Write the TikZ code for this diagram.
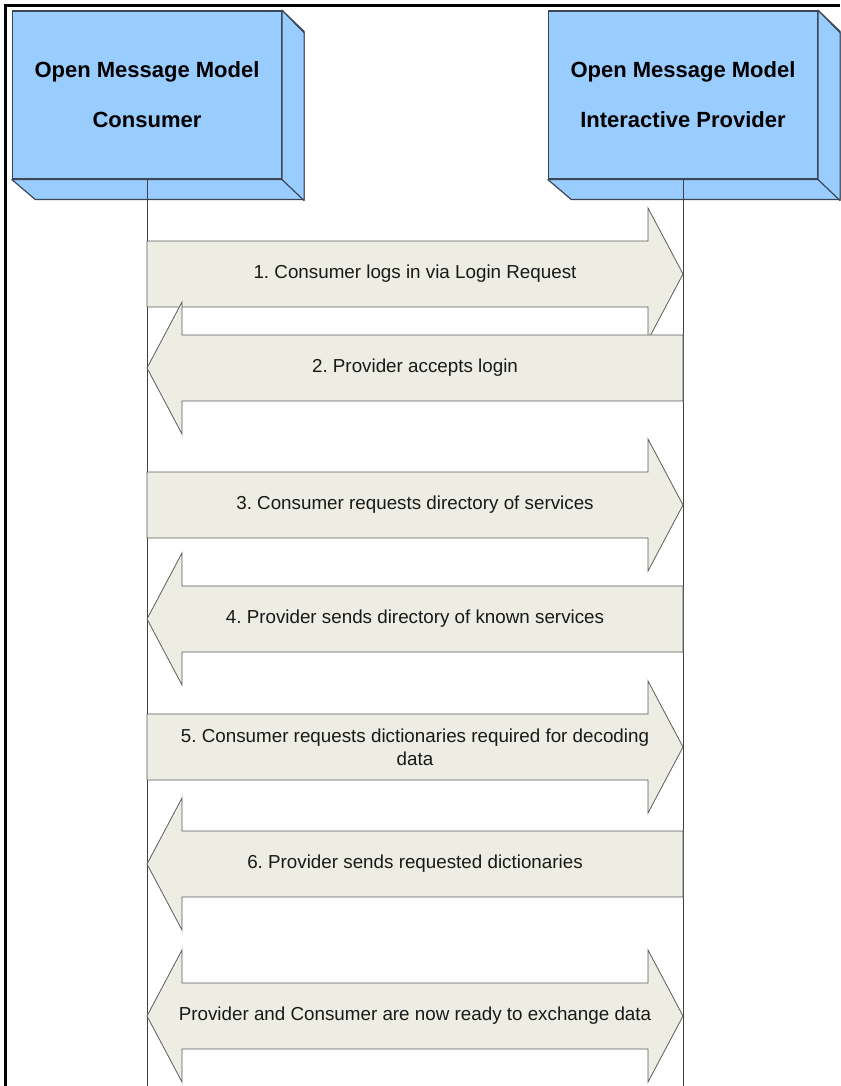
\documentclass[tikz,border=0pt]{standalone}
\usepackage{fontspec}
\setmainfont{Liberation Sans}
\usetikzlibrary{positioning,calc}
\frenchspacing

\definecolor{boxblue}{HTML}{99CCFF}
\definecolor{boxedge}{HTML}{3C4654}
\definecolor{msgfill}{HTML}{EDEDE3}
\definecolor{msgedge}{HTML}{5C5C5C}

% block arrows between two lifeline points
\newcommand{\msgright}[2]{%
  \draw[msg] ($(#1)+(0,-33)$) -- ($(#2)+(-35,-33)$) -- ($(#2)+(-35,-66)$) -- (#2)
    -- ($(#2)+(-35,66)$) -- ($(#2)+(-35,33)$) -- ($(#1)+(0,33)$) -- cycle;}
\newcommand{\msgleft}[2]{%
  \draw[msg] ($(#1)+(0,-33)$) -- ($(#2)+(35,-33)$) -- ($(#2)+(35,-66)$) -- (#2)
    -- ($(#2)+(35,66)$) -- ($(#2)+(35,33)$) -- ($(#1)+(0,33)$) -- cycle;}
\newcommand{\msgboth}[2]{%
  \draw[msg] ($(#1)+(35,-33)$) -- ($(#2)+(-35,-33)$) -- ($(#2)+(-35,-66)$) -- (#2)
    -- ($(#2)+(-35,66)$) -- ($(#2)+(-35,33)$) -- ($(#1)+(35,33)$) -- ($(#1)+(35,66)$)
    -- (#1) -- ($(#1)+(35,-66)$) -- cycle;}

\begin{document}
\begin{tikzpicture}[
    x=1pt, y=-1pt,
    omnode/.style={rectangle, draw=boxedge, line width=1.2pt, fill=boxblue, minimum width=269pt, minimum height=168pt, align=center, inner sep=0pt, font=\fontsize{22}{50}\selectfont\bfseries},
    omface/.style={draw=boxedge, line width=1.2pt, fill=boxblue, line join=round},
    lifeline/.style={draw=black!75, line width=0.9pt},
    msg/.style={draw=msgedge, line width=0.8pt, fill=msgfill},
    lbl/.style={align=center, inner sep=0pt, text=black!90, font=\fontsize{18.8}{23}\selectfont}
]
    \useasboundingbox (0,0) rectangle (840,1086);
    \draw[line width=3pt] (5.5,1086) -- (5.5,5.5) -- (840,5.5);

    \node[omnode] (cons) at (147,95) {Open Message Model\\Consumer};
    \node[omnode] (prov) at (683,95) {Open Message Model\\Interactive Provider};
    \draw[omface] (cons.north east) -- ++(22,21) -- ++(0,168) -- ++(-269,0) -- (cons.south west) -- (cons.south east) -- cycle;
    \draw[omface] (cons.north east) -- (cons.south east) -- ++(22,21) -- ++(0,-168) -- cycle;
    \draw[omface] (prov.north east) -- ++(22,21) -- ++(0,168) -- ++(-269,0) -- (prov.south west) -- (prov.south east) -- cycle;
    \draw[omface] (prov.north east) -- (prov.south east) -- ++(22,21) -- ++(0,-168) -- cycle;

    \coordinate (consend) at (147,1086);
    \coordinate (provend) at (683,1086);
    \draw[lifeline] (cons) -- (consend);
    \draw[lifeline] (prov) -- (provend);

    \coordinate (c1) at (147,274);  \coordinate (p1) at (683,274);
    \coordinate (c2) at (147,368);  \coordinate (p2) at (683,368);
    \coordinate (c3) at (147,505);  \coordinate (p3) at (683,505);
    \coordinate (c4) at (147,619);  \coordinate (p4) at (683,619);
    \coordinate (c5) at (147,747);  \coordinate (p5) at (683,747);
    \coordinate (c6) at (147,864);  \coordinate (p6) at (683,864);
    \coordinate (c7) at (147,1016); \coordinate (p7) at (683,1016);

    \msgright{c1}{p1}
    \node[lbl] (l1) at ($(c1)!.5!(p1)$) {1. Consumer logs in via Login Request};
    \msgleft{p2}{c2}
    \node[lbl] (l2) at ($(c2)!.5!(p2)$) {2. Provider accepts login};
    \msgright{c3}{p3}
    \node[lbl] (l3) at ($(c3)!.5!(p3)$) {3. Consumer requests directory of services};
    \msgleft{p4}{c4}
    \node[lbl] (l4) at ($(c4)!.5!(p4)$) {4. Provider sends directory of known services};
    \msgright{c5}{p5}
    \node[lbl] (l5) at ($(c5)!.5!(p5)$) {5. Consumer requests dictionaries required for decoding\\data};
    \msgleft{p6}{c6}
    \node[lbl] (l6) at ($(c6)!.5!(p6)$) {6. Provider sends requested dictionaries};
    \msgboth{c7}{p7}
    \node[lbl] (l7) at ($(c7)!.5!(p7)$) {Provider and Consumer are now ready to exchange data};
\end{tikzpicture}
\end{document}
